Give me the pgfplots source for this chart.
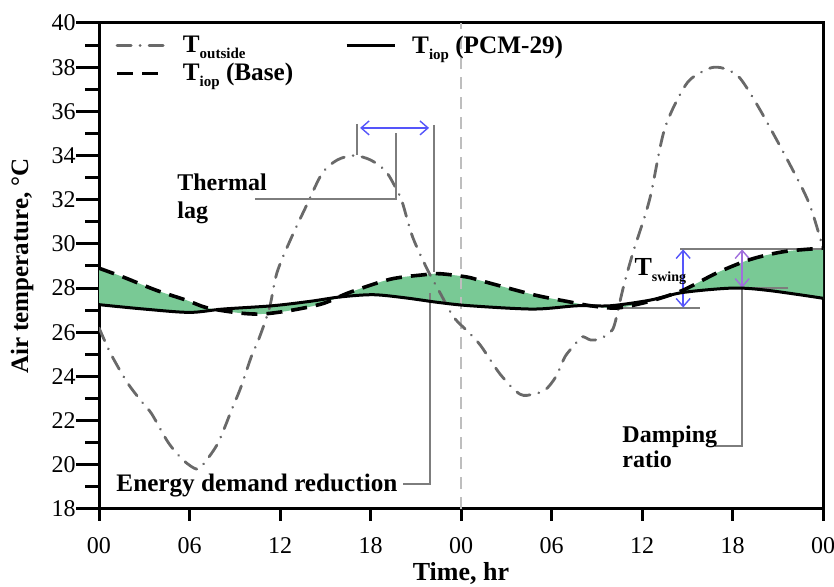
\documentclass[border=0pt]{standalone}
\usepackage{pgfplots}
\pgfplotsset{compat=1.18}
\usepgfplotslibrary{fillbetween}
\usetikzlibrary{arrows.meta}
\usepackage{fontspec}
\setmainfont{Liberation Serif}
\definecolor{outc}{RGB}{105,105,105}
\definecolor{fillg}{RGB}{121,201,149}
\definecolor{annc}{RGB}{125,125,125}
\definecolor{vline}{RGB}{190,190,190}
\definecolor{arrb}{RGB}{85,85,250}
\definecolor{arrp}{RGB}{160,110,220}
\newcommand\sub[2][7.5]{\raisebox{-3pt}{\fontsize{#1}{#1}\selectfont #2}}
\tikzset{
  outsty/.style={outc, line width=1.4pt, line cap=round, dash pattern=on 7pt off 4.5pt on 0.01pt off 4.5pt},
  basesty/.style={black, line width=1.8pt, dash pattern=on 8pt off 4.5pt},
  pcmsty/.style={black, line width=1.5pt},
  ann/.style={annc, line width=0.7pt},
  ab/.style={{Straight Barb[length=4pt,width=7pt]}-{Straight Barb[length=4pt,width=7pt]}, line width=0.7pt},
  txt/.style={anchor=base west, inner sep=0pt, font=\bfseries\fontsize{12}{14}\selectfont}
}
\begin{document}
\begin{tikzpicture}
\begin{axis}[
  name=ax, set layers,
  scale only axis, width=362pt, height=243pt,
  xmin=0, xmax=48, ymin=18, ymax=40,
  axis line style={line width=1.5pt},
  every tick/.append style={black, line width=1.5pt},
  tick align=outside,
  xtick pos=bottom, ytick pos=left,
  xtick={0,6,...,48},
  xticklabels={00,06,12,18,00,06,12,18,00},
  ytick={18,20,...,40},
  minor y tick num=1,
  major tick length=11.5pt, minor tick length=7pt,
  xtick style={/pgfplots/major tick length=6pt},
  extra x ticks={0,24,48}, extra x tick labels={},
  extra x tick style={/pgfplots/major tick length=11pt, xtick pos=bottom},
  /pgf/number format/assume math mode=true,
  ticklabel style={font=\fontsize{12}{14}\selectfont},
  yticklabel style={inner sep=0pt},
  xticklabel style={inner sep=0pt, yshift=-2.5pt},
  xlabel={Time, hr},
  xlabel style={font=\bfseries\fontsize{13}{15}\selectfont, at={(axis description cs:0.5,0)}, anchor=north, yshift=-26.5pt, inner sep=0pt},
  ylabel={Air temperature, °C},
  ylabel style={font=\bfseries\fontsize{12.5}{14}\selectfont, at={(axis description cs:-0.1063,0.5)}, anchor=center, inner sep=0pt},
  legend columns=2,
  legend cell align=left,
  legend image code/.code={\draw[#1] (0pt,0pt) -- (24pt,0pt);},
  legend style={draw=none, fill=none, at={(rel axis cs:0.022,0.983)}, anchor=north west,
    font=\bfseries\fontsize{12.6}{14}\selectfont, inner sep=0pt, row sep=-0.5pt,
    /tikz/every odd column/.append style={column sep=6pt},
    /tikz/every even column/.append style={column sep=24pt}},
]
\addlegendimage{outsty}
\addlegendentry{T\sub{outside}}
\addlegendimage{pcmsty}
\addlegendentry{T\sub{iop} (PCM-29)}
\addlegendimage{basesty}
\addlegendentry{T\sub{iop} (Base)}

% vertical marker at midnight
\draw[vline, line width=0.75pt, dash pattern=on 6pt off 4pt] (axis cs:24,18) -- (axis cs:24,40);

\addplot[name path=base, draw=none, forget plot, smooth, tension=0.5] coordinates {
(0,28.9) (1.6,28.5) (3.8,27.9) (5.8,27.45) (7.2,27.1) (9.35,26.87) (10.9,26.83) (12.8,27.0)
(14.85,27.3) (16.6,27.8) (19.3,28.4) (21.5,28.6) (22.6,28.65) (24.4,28.5) (25.5,28.3)
(28.8,27.7) (31.0,27.4) (32.6,27.2) (34.35,27.1) (36.5,27.4) (38.7,27.9) (41.0,28.7)
(43.2,29.3) (45.4,29.65) (47.8,29.8) (48,29.8)};
\addplot[name path=pcm, draw=none, forget plot, smooth, tension=0.5] coordinates {
(0,27.25) (3,27.05) (6.0,26.9) (8.2,27.05) (11.5,27.2) (14,27.4) (16.0,27.6) (18.2,27.7)
(20.4,27.55) (22.5,27.35) (24.6,27.2) (28.8,27.05) (31.7,27.2) (33.9,27.2) (36.5,27.45)
(38.7,27.8) (42.0,28.0) (44.3,27.9) (47.9,27.55) (48,27.5)};
\addplot[fillg, forget plot] fill between[of=base and pcm];

% T outside
\addplot[outsty, smooth, tension=0.5, forget plot] coordinates {
(0,26.2) (0.8,25.0) (1.9,23.7) (2.9,22.8) (3.5,22.3) (4.6,21.0) (5.6,20.2) (6.5,19.8)
(7.0,20.1) (7.9,21.0) (8.8,22.5) (9.4,23.5) (10.1,24.9) (10.6,25.7) (11.3,27.1) (11.8,28.7)
(12.7,30.2) (13.8,31.8) (14.8,33.2) (15.8,33.8) (16.9,34.0) (18.0,33.8) (19.0,33.3)
(19.7,32.5) (20.1,31.9) (20.8,30.3) (21.8,28.8) (22.6,27.8) (23.5,26.7) (24.5,26.0)
(25.3,25.4) (26.6,24.1) (27.9,23.2) (28.8,23.2) (29.6,23.4) (30.3,24.0) (30.9,24.9)
(31.5,25.4) (32.0,25.8) (32.6,25.65) (33.2,25.7) (33.9,26.0) (34.2,26.4) (34.75,28.0)
(35.4,29.6) (36.5,32.0) (37.5,35.2) (38.9,37.2) (40.0,37.8) (40.8,38.0) (41.6,37.9)
(42.5,37.5) (43.8,36.1) (45.8,33.6) (47.1,31.8) (48,29.8)};

% annotations
\draw[ann] (axis cs:17.11,35.43) -- (axis cs:17.11,34.03);
\draw[ann] (axis cs:22.21,35.39) -- (axis cs:22.21,28.73);
\draw[ann] (axis cs:10.35,32.03) -- (axis cs:19.7,32.03) -- (axis cs:19.7,35.02);
\draw[ab, arrb] (axis cs:17.31,35.25) -- (axis cs:21.88,35.25);
\draw[ann] (axis cs:20.16,19.13) -- (axis cs:21.95,19.13) -- (axis cs:21.95,27.78);
\draw[ann] (axis cs:38.53,29.77) -- (axis cs:48,29.77);
\draw[ann] (axis cs:34.35,27.1) -- (axis cs:39.85,27.1);
\draw[ab, arrb] (axis cs:38.73,27.12) -- (axis cs:38.73,29.75);
\draw[ann] (axis cs:45.7,28.0) -- (axis cs:42.64,28.0) -- (axis cs:42.64,20.85) -- (axis cs:40.85,20.85);
\draw[ab, arrp] (axis cs:42.64,28.02) -- (axis cs:42.64,29.75);

\node[txt] at (axis cs:5.17,32.44) {Thermal};
\node[txt] at (axis cs:5.17,31.17) {lag};
\node[txt, font=\bfseries\fontsize{12.6}{14}\selectfont] at (axis cs:1.13,18.81) {Energy demand reduction};
\node[txt] at (axis cs:34.68,21.03) {Damping};
\node[txt] at (axis cs:34.68,19.86) {ratio};
\node[txt, font=\bfseries\fontsize{13}{15}\selectfont] at (axis cs:35.48,28.59) {T\raisebox{-3pt}{\fontsize{7}{7}\selectfont swing}};

% T iop curves
\addplot[basesty, smooth, tension=0.5, forget plot] coordinates {
(0,28.9) (1.6,28.5) (3.8,27.9) (5.8,27.45) (7.2,27.1) (9.35,26.87) (10.9,26.83) (12.8,27.0)
(14.85,27.3) (16.6,27.8) (19.3,28.4) (21.5,28.6) (22.6,28.65) (24.4,28.5) (25.5,28.3)
(28.8,27.7) (31.0,27.4) (32.6,27.2) (34.35,27.1) (36.5,27.4) (38.7,27.9) (41.0,28.7)
(43.2,29.3) (45.4,29.65) (47.8,29.8) (48,29.8)};
\addplot[pcmsty, smooth, tension=0.5, forget plot] coordinates {
(0,27.25) (3,27.05) (6.0,26.9) (8.2,27.05) (11.5,27.2) (14,27.4) (16.0,27.6) (18.2,27.7)
(20.4,27.55) (22.5,27.35) (24.6,27.2) (28.8,27.05) (31.7,27.2) (33.9,27.2) (36.5,27.45)
(38.7,27.8) (42.0,28.0) (44.3,27.9) (47.9,27.55) (48,27.5)};
\end{axis}
\pgfresetboundingbox
\path[use as bounding box] ([xshift=-49.5pt,yshift=-39pt]ax.south west) rectangle ([xshift=5.5pt,yshift=11.5pt]ax.north east);
\end{tikzpicture}
\end{document}
